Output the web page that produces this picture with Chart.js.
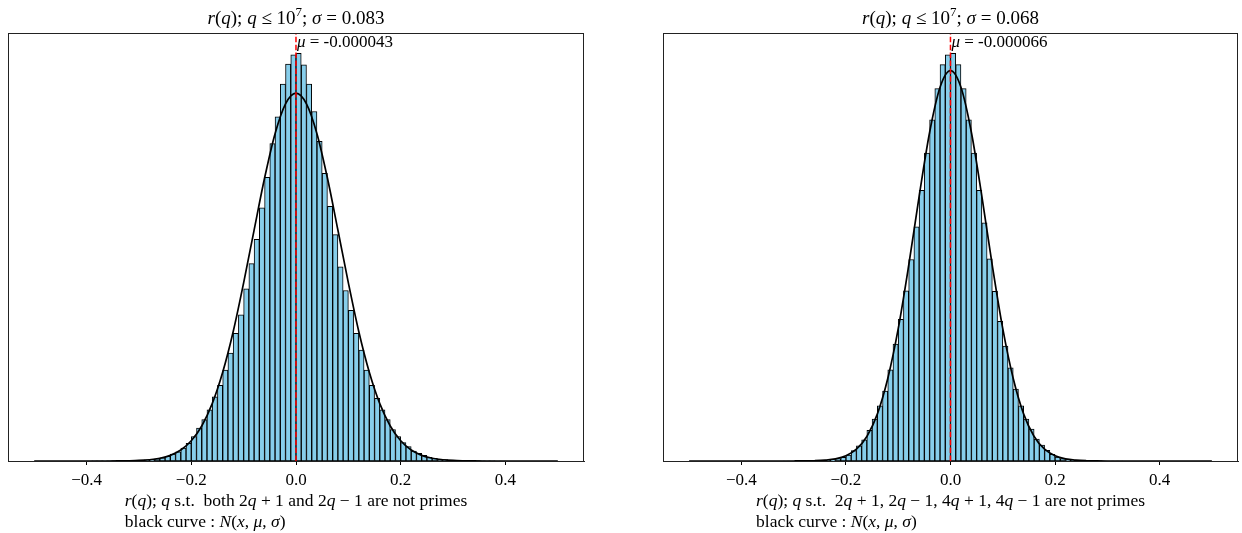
<!DOCTYPE html>
<html>
<head>
<meta charset="utf-8">
<script src="https://cdn.jsdelivr.net/npm/chart.js@4.4.1/dist/chart.umd.min.js"></script>
<style>
  body { margin: 0; background: #fff; }
  canvas { position: absolute; top: 0; }
</style>
</head>
<body>
<canvas id="leftChart" width="621" height="533" style="left:0px"></canvas>
<canvas id="rightChart" width="621" height="533" style="left:621px"></canvas>
<script>
// histogram: 100 bins of width 0.01 from -0.5 to 0.5 (density)
const binStart = -0.5;
const binWidth = 0.01;

const leftDensity = [
  0, 0, 0, 0, 0, 0, 0, 0, 0, 0,
  0.0005, 0.0007, 0.001, 0.0013, 0.0018, 0.0025, 0.0035, 0.005, 0.007, 0.009,
  0.012, 0.016, 0.022, 0.03, 0.042, 0.062, 0.09, 0.12, 0.17, 0.23,
  0.32, 0.43, 0.54, 0.67, 0.84, 0.99, 1.19, 1.41, 1.67, 1.91,
  2.25, 2.58, 2.90, 3.31, 3.71, 4.15, 4.50, 4.93, 5.19, 5.31,
  5.33, 5.18, 4.93, 4.57, 4.18, 3.76, 3.33, 2.96, 2.54, 2.23,
  1.97, 1.67, 1.45, 1.19, 0.99, 0.82, 0.67, 0.54, 0.41, 0.32,
  0.24, 0.19, 0.13, 0.10, 0.074, 0.048, 0.035, 0.025, 0.018, 0.012,
  0.008, 0.006, 0.004, 0.003, 0.002, 0.0015, 0.001, 0.0007, 0.0005, 0.0003,
  0, 0, 0, 0, 0, 0, 0, 0, 0, 0
];

const rightDensity = [
  0, 0, 0, 0, 0, 0, 0, 0, 0, 0,
  0, 0, 0, 0, 0, 0, 0, 0, 0.0001, 0.0002,
  0.0004, 0.0007, 0.001, 0.002, 0.004, 0.007, 0.012, 0.02, 0.035, 0.055,
  0.09, 0.155, 0.23, 0.32, 0.46, 0.63, 0.83, 1.05, 1.37, 1.76,
  2.13, 2.56, 3.03, 3.52, 4.07, 4.63, 5.13, 5.60, 5.96, 6.11,
  6.13, 5.96, 5.60, 5.13, 4.63, 4.07, 3.58, 3.04, 2.55, 2.10,
  1.73, 1.40, 1.08, 0.83, 0.63, 0.48, 0.33, 0.24, 0.16, 0.10,
  0.06, 0.037, 0.022, 0.013, 0.008, 0.005, 0.003, 0.002, 0.001, 0.0006,
  0.0003, 0.0002, 0.0001, 0, 0, 0, 0, 0, 0, 0,
  0, 0, 0, 0, 0, 0, 0, 0, 0, 0
];

// black curve sampled every 0.02 from -0.5 to 0.5
const curveStep = 0.02;
const leftCurve = [
  0, 0, 0, 0, 0, 0, 0, 0,
  0.001, 0.003, 0.007, 0.016, 0.036, 0.074, 0.143, 0.264, 0.458, 0.75, 1.16, 1.69, 2.33, 3.02, 3.70, 4.28, 4.67,
  4.81,
  4.67, 4.28, 3.70, 3.02, 2.33, 1.69, 1.16, 0.75, 0.458, 0.264, 0.143, 0.074, 0.036, 0.016, 0.007, 0.003, 0.001,
  0, 0, 0, 0, 0, 0, 0, 0
];
const rightCurve = [
  0, 0, 0, 0, 0, 0, 0, 0, 0, 0,
  0.0003, 0.0012, 0.004, 0.012, 0.031, 0.078, 0.177, 0.369, 0.705, 1.24, 1.99, 2.94, 3.98, 4.94, 5.62,
  5.87,
  5.62, 4.94, 3.98, 2.94, 1.99, 1.24, 0.705, 0.369, 0.177, 0.078, 0.031, 0.012, 0.004, 0.0012, 0.0003,
  0, 0, 0, 0, 0, 0, 0, 0, 0, 0
];

const leftMu = -0.000043;
const rightMu = -0.000066;
const leftSigma = '0.083';
const rightSigma = '0.068';
const xTicks = [-0.4, -0.2, 0.0, 0.2, 0.4];

const FONT = '"Liberation Serif", "DejaVu Serif", serif';

function drawRuns(ctx, runs, x, y, size, align) {
  const fontFor = (st) => (st === 'i' ? 'italic ' : '') + (st === 's' ? Math.round(size * 0.7) : size) + 'px ' + FONT;
  let total = 0;
  runs.forEach(([t, st]) => { ctx.font = fontFor(st); total += ctx.measureText(t).width; });
  let cx = align === 'center' ? x - total / 2 : x;
  runs.forEach(([t, st]) => {
    ctx.font = fontFor(st);
    ctx.fillText(t, cx, st === 's' ? y - size * 0.4 : y);
    cx += ctx.measureText(t).width;
  });
  return total;
}

function measureRuns(ctx, runs, size) {
  let total = 0;
  runs.forEach(([t, st]) => {
    ctx.font = (st === 'i' ? 'italic ' : '') + size + 'px ' + FONT;
    total += ctx.measureText(t).width;
  });
  return total;
}

const decorations = {
  id: 'decorations',
  afterDraw(chart, args, opts) {
    const { ctx, chartArea: a } = chart;
    ctx.save();
    ctx.fillStyle = '#000';
    ctx.textBaseline = 'alphabetic';

    // frame
    ctx.strokeStyle = '#222';
    ctx.lineWidth = 1;
    ctx.strokeRect(a.left + 0.5, a.top + 0.5, a.right - a.left - 1, a.bottom - a.top);

    const cx = (a.left + a.right) / 2;
    drawRuns(ctx, [['r', 'i'], ['(', ''], ['q', 'i'], ['); ', ''], ['q', 'i'], [' \u2264 10', ''], ['7', 's'], ['; ', ''], ['\u03c3', 'i'], [' = ' + opts.sigma, '']], cx, 24, 19, 'center');

    // mu label
    const mx = chart.scales.x.getPixelForValue(opts.mu);
    drawRuns(ctx, [['\u03bc', 'i'], [' = ' + opts.muText, '']], mx + 1, 47, 17, 'left');

    // x label (two lines, left aligned block)
    const w = measureRuns(ctx, opts.line1, 17.5);
    const lx = cx - w / 2;
    drawRuns(ctx, opts.line1, lx, 506, 17.5, 'left');
    drawRuns(ctx, opts.line2, lx, 527, 17.5, 'left');
    ctx.restore();
  }
};

const line2 = [['black curve : ', ''], ['N', 'i'], ['(', ''], ['x', 'i'], [', ', ''], ['\u03bc', 'i'], [', ', ''], ['\u03c3', 'i'], [')', '']];

function makeChart(id, density, curve, mu, sigma, muText, line1, padLeft, padRight) {
  const bars = density.map((v, i) => ({ x: binStart + binWidth * (i + 0.5), y: v }));
  const curvePts = curve.map((v, i) => ({ x: binStart + curveStep * i, y: v }));
  const ymax = Math.max(...density) * 1.05;

  new Chart(document.getElementById(id), {
    type: 'bar',
    data: {
      datasets: [{
        type: 'line',
        data: [{ x: mu, y: 0 }, { x: mu, y: ymax }],
        borderColor: '#ff0000',
        borderWidth: 1.5,
        borderDash: [5.5, 2.4],
        pointRadius: 0,
        order: 1
      }, {
        type: 'line',
        data: curvePts,
        borderColor: '#000',
        borderWidth: 1.7,
        pointRadius: 0,
        cubicInterpolationMode: 'monotone',
        order: 2
      }, {
        type: 'bar',
        data: bars,
        backgroundColor: '#87ceeb',
        borderColor: '#000',
        borderWidth: 1,
        borderSkipped: false,
        barPercentage: 1,
        categoryPercentage: 1,
        order: 3
      }]
    },
    options: {
      responsive: false,
      animation: false,
      devicePixelRatio: 1,
      layout: { padding: { left: padLeft, right: padRight, top: 33, bottom: 0 } },
      plugins: {
        legend: { display: false },
        tooltip: { enabled: false },
        decorations: { mu: mu, sigma: sigma, muText: muText, line1: line1, line2: line2 }
      },
      scales: {
        x: {
          type: 'linear',
          min: -0.55,
          max: 0.55,
          offset: false,
          afterBuildTicks: (scale) => { scale.ticks = xTicks.map(v => ({ value: v })); },
          afterFit: (scale) => { scale.height = 72; },
          grid: { offset: false, drawOnChartArea: false, drawTicks: true, tickLength: 4, color: '#000' },
          border: { display: true, color: '#222', width: 1 },
          ticks: {
            padding: 5,
            color: '#000',
            maxRotation: 0,
            font: { family: FONT, size: 17 },
            callback: (v) => (v < 0 ? '\u2212' : '') + Math.abs(v).toFixed(1)
          }
        },
        y: { display: false, min: 0, max: ymax }
      }
    },
    plugins: [decorations]
  });
}

makeChart('leftChart', leftDensity, leftCurve, leftMu, leftSigma, '-0.000043',
  [['r', 'i'], ['(', ''], ['q', 'i'], ['); ', ''], ['q', 'i'], [' s.t.  both 2', ''], ['q', 'i'], [' + 1 and 2', ''], ['q', 'i'], [' \u2212 1 are not primes', '']],
  8, 37);
makeChart('rightChart', rightDensity, rightCurve, rightMu, rightSigma, '-0.000066',
  [['r', 'i'], ['(', ''], ['q', 'i'], ['); ', ''], ['q', 'i'], [' s.t.  2', ''], ['q', 'i'], [' + 1, 2', ''], ['q', 'i'], [' \u2212 1, 4', ''], ['q', 'i'], [' + 1, 4', ''], ['q', 'i'], [' \u2212 1 are not primes', '']],
  42, 4);
</script>
</body>
</html>
